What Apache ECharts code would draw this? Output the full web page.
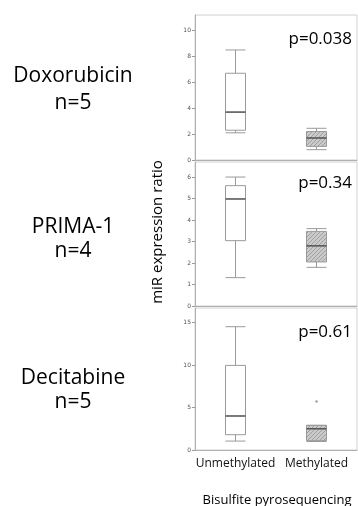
<!DOCTYPE html>
<html>
<head>
<meta charset="utf-8">
<script src="https://cdn.jsdelivr.net/npm/echarts@6/dist/echarts.min.js"></script>
<style>html,body{margin:0;padding:0;background:#fff;}#c{width:358px;height:506px;}</style>
</head>
<body>
<div id="c"></div>
<script>
// ---- data ----
const categories = ['Unmethylated', 'Methylated'];
// [min, Q1, median, Q3, max]
const doxUnmeth = [2.1, 2.3, 3.7, 6.7, 8.5];
const doxMeth = [0.8, 1.05, 1.7, 2.2, 2.45];
const primaUnmeth = [1.32, 3.04, 4.98, 5.6, 6.0];
const primaMeth = [1.8, 2.05, 2.8, 3.47, 3.6];
const deciUnmeth = [1.05, 1.8, 4.0, 9.95, 14.5];
const deciMeth = [1.0, 1.1, 2.5, 2.9, 2.9];
const deciOutliers = [[1, 5.7]];
const drugNames = ['Doxorubicin', 'PRIMA-1', 'Decitabine'];
const drugN = ['n=5', 'n=4', 'n=5'];
const pValues = ['p=0.038', 'p=0.34', 'p=0.61'];
const yMax = [11.2, 6.7, 16.7];
const yInterval = [2, 1, 5];
const xTitle = 'Bisulfite pyrosequencing';
const yTitle = 'miR expression ratio';

// ---- hatch pattern ----
const pc = document.createElement('canvas');
pc.width = 4; pc.height = 4;
const px = pc.getContext('2d');
px.fillStyle = '#cacaca'; px.fillRect(0, 0, 4, 4);
px.strokeStyle = '#a0a0a0'; px.lineWidth = 1;
px.beginPath();
px.moveTo(-1, 5); px.lineTo(5, -1);
px.moveTo(-1, 1); px.lineTo(1, -1);
px.moveTo(3, 5); px.lineTo(5, 3);
px.stroke();
const hatch = { image: pc, repeat: 'repeat' };

const panels = [[doxUnmeth, doxMeth], [primaUnmeth, primaMeth], [deciUnmeth, deciMeth]];
const grids = [
  { left: 195, top: 15, width: 162, height: 145 },
  { left: 195, top: 162, width: 162, height: 144 },
  { left: 195, top: 308, width: 162, height: 142 }
];
const labelY = [[76, 103], [227, 251], [378, 402]];
const pY = [39, 183, 332];

const chart = echarts.init(document.getElementById('c'), null, { renderer: 'canvas' });
const option = {
  animation: false,
  backgroundColor: '#fff',
  grid: grids.map(g => Object.assign({ show: true, borderColor: '#d0d0d0', borderWidth: 1, backgroundColor: 'transparent' }, g)),
  xAxis: grids.map((g, i) => ({
    type: 'category', gridIndex: i, data: categories, boundaryGap: true,
    axisLine: { lineStyle: { color: '#b0b0b0' } },
    axisTick: { show: false },
    axisLabel: { show: i === 2, interval: 0, hideOverlap: false, fontSize: 12, color: '#111', margin: 8, fontFamily: 'Open Sans' }
  })),
  yAxis: grids.map((g, i) => ({
    type: 'value', gridIndex: i, min: 0, max: yMax[i], interval: yInterval[i],
    splitLine: { show: false },
    axisLine: { show: true, lineStyle: { color: '#b0b0b0' } },
    axisTick: { show: true, length: 3, lineStyle: { color: '#999' } },
    axisLabel: { fontSize: 6, color: '#555', margin: 4, showMaxLabel: false, fontFamily: 'DejaVu Sans' }
  })),
  series: []
};
panels.forEach((p, i) => {
  option.series.push({
    type: 'boxplot', xAxisIndex: i, yAxisIndex: i, boxWidth: [20, 20],
    itemStyle: { borderColor: '#9a9a9a', borderWidth: 1 },
    data: [
      { value: p[0], itemStyle: { color: '#ffffff' } },
      { value: p[1], itemStyle: { color: hatch } }
    ]
  });
  option.series.push({
    type: 'scatter', xAxisIndex: i, yAxisIndex: i, symbol: 'rect', symbolSize: [20, 1.5],
    itemStyle: { color: '#444' }, z: 5,
    data: [[0, p[0][2]], [1, p[1][2]]]
  });
});
option.series.push({
  type: 'scatter', xAxisIndex: 2, yAxisIndex: 2, symbol: 'circle', symbolSize: 2.5,
  itemStyle: { color: '#888' }, data: deciOutliers
});

const graphic = [];
drugNames.forEach((name, i) => {
  graphic.push({ type: 'text', x: 73, y: labelY[i][0], style: { text: name, font: '21px "Open Sans"', fill: '#000', textAlign: 'center', textVerticalAlign: 'middle' } });
  graphic.push({ type: 'text', x: 73, y: labelY[i][1], style: { text: drugN[i], font: '21px "Open Sans"', fill: '#000', textAlign: 'center', textVerticalAlign: 'middle' } });
  graphic.push({ type: 'text', x: 352, y: pY[i], style: { text: pValues[i], font: '17px "Open Sans"', fill: '#000', textAlign: 'right', textVerticalAlign: 'middle' } });
});
graphic.push({ type: 'text', x: 158, y: 232, rotation: Math.PI / 2, style: { text: yTitle, font: '15px "Open Sans"', fill: '#000', textAlign: 'center', textVerticalAlign: 'middle' } });
graphic.push({ type: 'text', x: 277, y: 500, style: { text: xTitle, font: '13px "Open Sans"', fill: '#000', textAlign: 'center', textVerticalAlign: 'middle' } });
option.graphic = graphic;
chart.setOption(option);
</script>
</body>
</html>
